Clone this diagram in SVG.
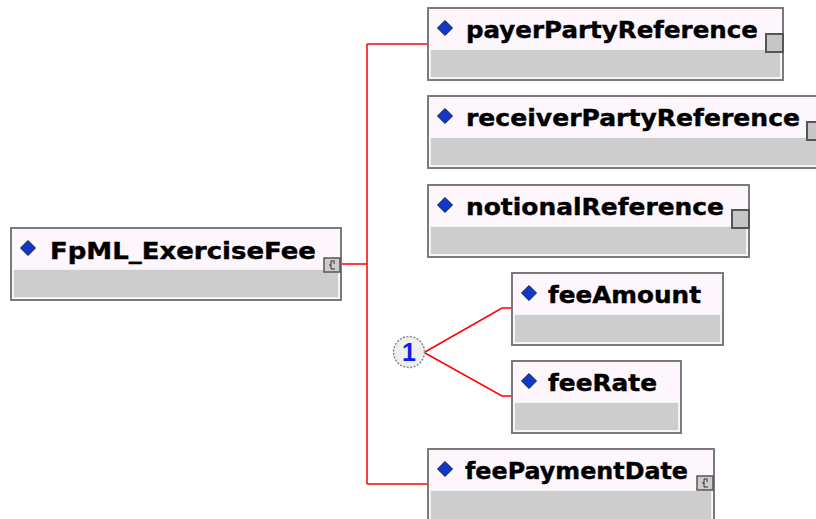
<svg xmlns="http://www.w3.org/2000/svg" width="816" height="519" viewBox="0 0 816 519">
<defs>
<style>
.box{fill:#fdf7fd;stroke:#7a7a7a;stroke-width:2}
.body{fill:#cdcdcd;stroke:#f2f2f2;stroke-width:1}
.lbl{font-family:"DejaVu Sans",Verdana,sans-serif;font-weight:bold;font-size:23px;fill:#000;stroke:#000;stroke-width:0.4}
.dia{fill:#1238c8;stroke:#0a1f3a;stroke-width:1}
.simple{fill:#c6c6c6;stroke:#555;stroke-width:2}
.cplx{fill:#cccccc;stroke:#555;stroke-width:1.5}
.con{fill:none;stroke:#ff0000;stroke-width:1.5}
</style>
<path id="d" d="M0,-7.5 L7.5,0 L0,7.5 L-7.5,0 Z"/>
</defs>
<rect width="816" height="519" fill="#ffffff"/>
<g id="connectors">
<path class="con" d="M342,264 H367 M367,44 V484 M367,44 H427 M367,484 H427"/>
<path class="con" d="M425,352 L502,308 H511 M425,353 L502,396 H511"/>
</g>
<g id="FpML_ExerciseFee">
<rect class="box" x="11" y="228" width="330" height="72"/>
<rect class="body" x="13.5" y="269.5" width="325" height="28"/>
<use href="#d" class="dia" x="28" y="248"/>
<text class="lbl" x="50" y="259" textLength="266" lengthAdjust="spacingAndGlyphs">FpML_ExerciseFee</text>
<rect class="cplx" x="324" y="258" width="16" height="14"/>
<path d="M335,261 h-4 v8 h4 M329,265 h2 M333,263 h2" fill="none" stroke="#333" stroke-width="1"/>
</g>
<g id="payerPartyReference">
<rect class="box" x="428" y="8" width="355" height="72"/>
<rect class="body" x="430.5" y="49.5" width="350" height="28"/>
<use href="#d" class="dia" x="445" y="28"/>
<text class="lbl" x="466" y="38" textLength="292" lengthAdjust="spacingAndGlyphs">payerPartyReference</text>
<rect class="simple" x="766" y="34" width="17" height="18"/>
</g>
<g id="receiverPartyReference">
<rect class="box" x="428" y="96" width="398" height="72"/>
<rect class="body" x="430.5" y="137.5" width="393" height="28"/>
<use href="#d" class="dia" x="445" y="116"/>
<text class="lbl" x="466" y="126" textLength="334" lengthAdjust="spacingAndGlyphs">receiverPartyReference</text>
<rect class="simple" x="807" y="122" width="17" height="18"/>
</g>
<g id="notionalReference">
<rect class="box" x="428" y="185" width="321" height="72"/>
<rect class="body" x="430.5" y="226.5" width="316" height="28"/>
<use href="#d" class="dia" x="445" y="205"/>
<text class="lbl" x="466" y="215" textLength="258" lengthAdjust="spacingAndGlyphs">notionalReference</text>
<rect class="simple" x="732" y="210" width="17" height="18"/>
</g>
<g id="choice">
<circle cx="409" cy="352" r="15.5" fill="#eeeeee" stroke="#8a8a8a" stroke-width="1.5" stroke-dasharray="2,1.5"/>
<text x="409" y="361" text-anchor="middle" font-family="Liberation Sans,Arial,sans-serif" font-weight="bold" font-size="25" fill="#0a1ee6">1</text>
</g>
<g id="feeAmount">
<rect class="box" x="512" y="273" width="211" height="72"/>
<rect class="body" x="514.5" y="314.5" width="206" height="28"/>
<use href="#d" class="dia" x="529" y="293"/>
<text class="lbl" x="548" y="303" textLength="153" lengthAdjust="spacingAndGlyphs">feeAmount</text>
</g>
<g id="feeRate">
<rect class="box" x="512" y="361" width="169" height="72"/>
<rect class="body" x="514.5" y="402.5" width="164" height="28"/>
<use href="#d" class="dia" x="529" y="381"/>
<text class="lbl" x="548" y="391" textLength="109" lengthAdjust="spacingAndGlyphs">feeRate</text>
</g>
<g id="feePaymentDate">
<rect class="box" x="428" y="449" width="286" height="80"/>
<rect class="body" x="430.5" y="490.5" width="281" height="36"/>
<use href="#d" class="dia" x="445" y="469"/>
<text class="lbl" x="465" y="479" textLength="223" lengthAdjust="spacingAndGlyphs">feePaymentDate</text>
<rect class="cplx" x="697" y="476" width="16" height="14"/>
<path d="M708,479 h-4 v8 h4 M702,483 h2 M706,481 h2" fill="none" stroke="#333" stroke-width="1"/>
</g>
</svg>
